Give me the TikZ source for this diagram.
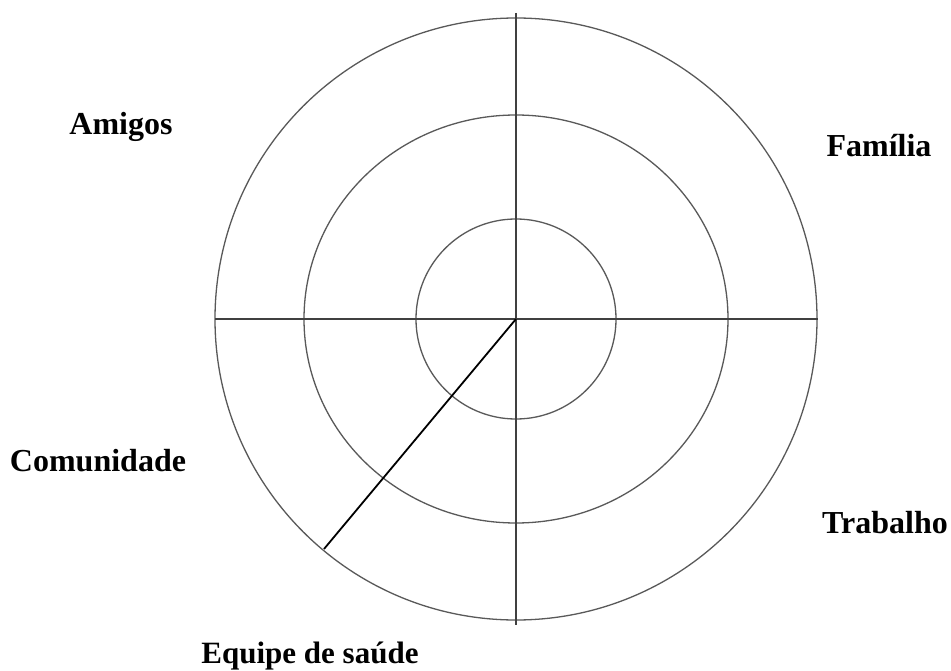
\documentclass[tikz,border=0pt]{standalone}
\usepackage{fontspec}
\setmainfont{Liberation Serif}
\begin{document}
\begin{tikzpicture}[x=1pt,y=-1pt,
  ring/.style={draw=black!65,line width=1.3pt},
  axis/.style={draw=black!75,line width=1.3pt},
  spoke/.style={draw=black,line width=1.8pt},
  lbl/.style={font=\fontsize{32}{32}\selectfont\bfseries,inner sep=0pt},
  lblbottom/.style={font=\fontsize{31}{31}\selectfont\bfseries,inner sep=0pt}]
\useasboundingbox (0,0) rectangle (951,671);
\fill[white] (0,0) rectangle (951,671);
\coordinate (c) at (516,319);
\draw[ring] (c) circle[radius=301];
\draw[ring] (c) ellipse[x radius=212,y radius=204];
\draw[ring] (c) circle[radius=100];
\coordinate (top) at (516,13);
\coordinate (bot) at (516,625);
\coordinate (lft) at (215,319);
\coordinate (rgt) at (818,319);
\coordinate (sp) at (324,549);
\draw[axis] (top) -- (bot);
\draw[axis] (lft) -- (rgt);
\draw[spoke] (c) -- (sp);
\node[lbl] (amigos) at (121,127) {Amigos};
\node[lbl] (familia) at (879,146) {Família};
\node[lbl] (comunidade) at (98,461) {Comunidade};
\node[lbl] (trabalho) at (885,523) {Trabalho};
\node[lblbottom] (equipe) at (310,656) {Equipe de saúde};
\end{tikzpicture}
\end{document}
